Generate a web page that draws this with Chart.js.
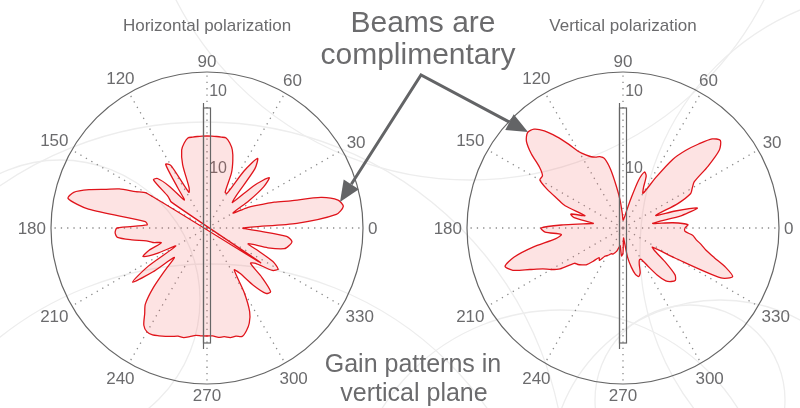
<!DOCTYPE html>
<html>
<head>
<meta charset="utf-8">
<script src="https://cdn.jsdelivr.net/npm/chart.js@4.4.1/dist/chart.umd.min.js"></script>
<style>
  html, body { margin: 0; padding: 0; background: #fff; }
  #wrap { position: relative; width: 800px; height: 408px; overflow: hidden; }
  #wrap canvas { position: absolute; left: 0; top: 0; }
</style>
</head>
<body>
<div id="wrap">
  <canvas id="hpol" width="800" height="408"></canvas>
  <canvas id="vpol" width="800" height="408"></canvas>
</div>
<script>
// sample angles, degrees counter-clockwise from 0 (right side)
const angles = [
  0, 3, 6, 9, 12, 15, 18, 21, 24, 27,
  30, 33, 36, 39, 42, 45, 48, 51, 54, 57,
  60, 63, 66, 69, 72, 75, 78, 81, 84, 87,
  90, 93, 96, 99, 102, 105, 108, 111, 114, 117,
  120, 123, 126, 129, 132, 135, 138, 141, 144, 147,
  150, 153, 156, 159, 162, 165, 168, 171, 174, 177,
  180, 183, 186, 189, 192, 195, 198, 201, 204, 207,
  210, 213, 216, 219, 222, 225, 228, 231, 234, 237,
  240, 243, 246, 249, 252, 255, 258, 261, 264, 267,
  270, 273, 276, 279, 282, 285, 288, 291, 294, 297,
  300, 303, 306, 309, 312, 315, 318, 321, 324, 327,
  330, 333, 336, 339, 342, 345, 348, 351, 354, 357
];

// gain, horizontal polarization (same order as angles)
const gainHorizontal = [
  9, 22.5, 32.5, 34.5, 33.5, 29.5, 22, 18, 14, 11,
  7.5, 12.5, 17.5, 20, 16, 9, 11, 19, 21.5, 17,
  10, 10, 15, 18, 20.5, 22, 23, 23, 23, 23,
  23, 23, 23, 23, 23, 22, 20.5, 17, 11, 10,
  18, 19, 12.5, 9, 14, 17.5, 18, 12.5, 11, -16,
  17.5, 20, 24, 27, 31, 34.5, 35.5, 30, 15.5, 15,
  22.5, 23, 22.5, 19, 15.5, 14, 12, 15.5, 17.5, 14,
  9, 17.5, 23, 17.5, 11, 14.5, 20, 24.5, 26.5, 29,
  30, 30, 29.5, 29, 28.5, 28, 28, 27.5, 27, 27,
  27, 27, 27.5, 27.5, 28, 28, 28.5, 27.5, 26, 23.5,
  18.5, 12.5, 14, 18.5, 22, 22.5, 18.5, 14, 15, 19.5,
  20.5, 18.5, 14, 11, 16, 20, 21, 21.5, 20, 12.5
];

// gain, vertical polarization
const gainVertical = [
  15.5, 16.25, 12.5, 7.5, 15, 19.25, 13.75, 8.75, 15, 19,
  20, 21.25, 26.25, 31, 32.75, 31.5, 28.25, 25, 21.25, 15,
  10, 11.25, 14.25, 15, 12.5, 7.5, 4.5, 3, 2.5, 2,
  2, 3.75, 7, 10.5, 15, 18, 18.75, 19, 19.5, 20.5,
  22, 25, 28.25, 31.25, 33.25, 33.75, 32.5, 29.5, 25.75, 24,
  24, 21.25, 18, 15.5, 10, 13.5, 12.5, 7.5, 10, 15,
  20.5, 19.5, 15.5, 17, 23, 28.25, 31, 29.5, 25.5, 22.5,
  20.75, 18.75, 15, 14.5, 13.75, 13, 11.25, 9.5, 10, 8.5,
  8, 7.5, 7, 7, 6.5, 6, 5, 4.5, 5.5, 7,
  6.25, 2.5, 3.75, 7.5, 10, 12, 12.75, 12, 10, 9,
  9, 11.25, 14.5, 17, 18, 18.5, 17.5, 13.75, 10, 8.75,
  15, 27.5, 30, 27.5, 24, 21.5, 20, 18.5, 17.5, 15.5
];

const gainTicks = [0, 14.75, 34, 39];
const gainTickLabels = ['', '10', '10', ''];
const gainMax = 39;

const titles = ['Horizontal polarization', 'Vertical polarization'];
const noteTop = ['Beams are', 'complimentary'];
const noteBottom = ['Gain patterns in', 'vertical plane'];

const FONT = '"Liberation Sans", Arial, Helvetica, sans-serif';
const GREY = '#6b6b6d';

// radar goes clockwise from the top, the plot goes counter-clockwise from the right
const start = angles.indexOf(90);
const order = angles.map((a, k) => (start - k + angles.length) % angles.length);
const radarLabels = order.map(j => angles[j]);

const angleLabelPlugin = {
  id: 'angleLabels',
  afterDraw(chart) {
    const s = chart.scales.r, ctx = chart.ctx;
    ctx.save();
    ctx.font = '17px ' + FONT;
    ctx.fillStyle = GREY;
    ctx.textAlign = 'center';
    ctx.textBaseline = 'middle';
    s.getLabels().forEach((lab, i) => {
      if (lab % 30 !== 0) return;
      const a = lab * Math.PI / 180;
      const w = ctx.measureText(String(lab)).width;
      const d = s.drawingArea + 5 + Math.abs(Math.cos(a)) * w / 2 + Math.abs(Math.sin(a)) * 6;
      const p = s.getPointPosition(i, d);
      ctx.fillText(String(lab), p.x, p.y + 1);
    });
    ctx.restore();
  }
};

const antennaPlugin = {
  id: 'antenna',
  afterDatasetsDraw(chart) {
    const s = chart.scales.r, ctx = chart.ctx;
    const x = s.xCenter, y = s.yCenter;
    ctx.save();
    ctx.strokeStyle = '#666';
    ctx.lineWidth = 1.2;
    ctx.beginPath();
    ctx.moveTo(x - 3.5, y - 125);
    ctx.lineTo(x - 3.5, y + 121);
    ctx.stroke();
    ctx.strokeRect(x - 3.5, y - 120, 7, 235);
    ctx.restore();
  }
};

// faint decorative circles behind everything
const backdropPlugin = {
  id: 'backdrop',
  beforeDraw(chart) {
    const ctx = chart.ctx;
    const rings = [[205, 483, 361], [210, 602, 338], [720, 470, 170], [560, 520, 210],
                   [900, 250, 260], [470, -150, 330], [60, 300, 140], [690, 400, 95]];
    ctx.save();
    ctx.strokeStyle = '#ededed';
    ctx.lineWidth = 1.3;
    rings.forEach(([x, y, r]) => {
      ctx.beginPath();
      ctx.arc(x, y, r, 0, Math.PI * 2);
      ctx.stroke();
    });
    ctx.restore();
  }
};

function arrowHead(ctx, x0, y0, x1, y1) {
  const a = Math.atan2(y1 - y0, x1 - x0), L = 21, W = 9;
  const bx = x1 - L * Math.cos(a), by = y1 - L * Math.sin(a);
  ctx.beginPath();
  ctx.moveTo(x1, y1);
  ctx.lineTo(bx + W * Math.sin(a), by - W * Math.cos(a));
  ctx.lineTo(bx - W * Math.sin(a), by + W * Math.cos(a));
  ctx.closePath();
  ctx.fill();
  return [bx, by];
}

const notesPlugin = {
  id: 'notes',
  afterDraw(chart) {
    const ctx = chart.ctx;
    ctx.save();
    ctx.fillStyle = GREY;
    ctx.textAlign = 'center';
    ctx.textBaseline = 'alphabetic';
    ctx.font = '30px ' + FONT;
    ctx.fillText(noteTop[0], 423, 32);
    ctx.fillText(noteTop[1], 418, 64);
    ctx.font = '25px ' + FONT;
    ctx.fillText(noteBottom[0], 413, 372);
    ctx.fillText(noteBottom[1], 414, 401);

    ctx.fillStyle = '#636466';
    ctx.strokeStyle = '#636466';
    ctx.lineWidth = 3;
    const vx = 421, vy = 75;
    const b1 = arrowHead(ctx, vx, vy, 340, 202);
    const b2 = arrowHead(ctx, vx, vy, 528, 132);
    ctx.beginPath();
    ctx.moveTo(b1[0], b1[1]);
    ctx.lineTo(vx, vy);
    ctx.lineTo(b2[0], b2[1]);
    ctx.stroke();
    ctx.restore();
  }
};

function polarChart(id, title, series, pad, extra) {
  return new Chart(document.getElementById(id), {
    type: 'radar',
    data: {
      labels: radarLabels,
      datasets: [{
        data: order.map(j => series[j]),
        borderColor: '#e0141b',
        borderWidth: 1.3,
        backgroundColor: 'rgba(245, 90, 90, 0.17)',
        fill: 'origin',
        pointRadius: 0,
        tension: 0.25
      }]
    },
    options: {
      responsive: false,
      animation: false,
      layout: { padding: pad },
      plugins: {
        legend: { display: false },
        tooltip: { enabled: false },
        title: {
          display: true,
          text: title,
          color: GREY,
          font: { family: FONT, size: 17, weight: 'normal' },
          padding: { top: 16, bottom: 25 }
        }
      },
      scales: {
        r: {
          min: 0,
          max: gainMax,
          startAngle: 0,
          afterBuildTicks: axis => { axis.ticks = gainTicks.map(v => ({ value: v })); },
          ticks: {
            showLabelBackdrop: false,
            color: GREY,
            font: { family: FONT, size: 16 },
            callback: (v, i) => gainTickLabels[i] ? '     ' + gainTickLabels[i] : ''
          },
          grid: {
            circular: true,
            color: c => c.tick && c.tick.value === gainMax ? '#666' : 'rgba(0,0,0,0)',
            lineWidth: 1.2
          },
          angleLines: {
            color: c => c.label % 30 === 0 ? '#8a8a8a' : 'rgba(0,0,0,0)',
            lineWidth: c => c.label % 30 === 0 ? 1.3 : 0,
            borderDash: [1.3, 5]
          },
          pointLabels: { display: false }
        }
      }
    },
    plugins: [angleLabelPlugin, antennaPlugin].concat(extra)
  });
}

polarChart('hpol', titles[0], gainHorizontal, { left: 41, right: 427, top: 0, bottom: 13 }, [backdropPlugin]);
polarChart('vpol', titles[1], gainVertical, { left: 457, right: 11, top: 0, bottom: 13 }, [notesPlugin]);
</script>
</body>
</html>
